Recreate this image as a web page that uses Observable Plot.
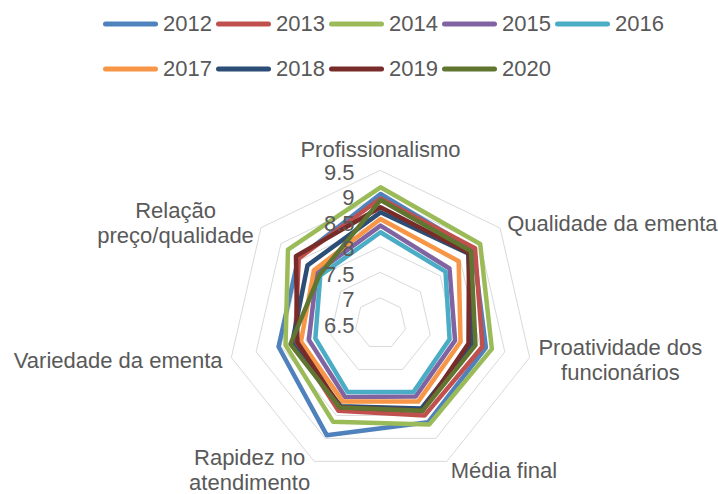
<!DOCTYPE html>
<html><head><meta charset="utf-8">
<script src="https://cdn.jsdelivr.net/npm/d3@7"></script>
<script src="https://cdn.jsdelivr.net/npm/@observablehq/plot@0.6"></script>
<style>
body{margin:0;background:#fff;font-family:'Liberation Sans',Arial,sans-serif;}
#legend{position:relative;height:95px;width:718px;}
.row{position:absolute;left:103px;display:flex;height:30px;align-items:center;}
.item{display:flex;align-items:center;width:113px;}
.item span{font-size:22px;color:#595959;margin-left:5px;line-height:30px;}
.item svg{display:block;}
</style></head><body>
<div id="legend"></div><div id="chart"></div>
<script>
// ---- data ----
const categories = ["Profissionalismo","Qualidade da ementa","Proatividade dos funcionários","Média final","Rapidez no atendimento","Variedade da ementa","Relação preço/qualidade"];
const categoryLabels = ["Profissionalismo","Qualidade da ementa","Proatividade dos\nfuncionários","Média final","Rapidez no\natendimento","Variedade da ementa","Relação\npreço/qualidade"];
const years = ["2012","2013","2014","2015","2016","2017","2018","2019","2020"];
const colors = ["#4F81BD","#C0504D","#9BBB59","#8064A2","#4BACC6","#F79646","#2C4D75","#772C2A","#5F7530"];
const s2012 = [9.04, 8.83, 8.62, 8.65, 8.93, 8.55, 8.56];
const s2013 = [8.95, 8.87, 8.55, 8.50, 8.40, 8.22, 8.55];
const s2014 = [9.17, 9.00, 8.74, 8.70, 8.64, 8.41, 8.82];
const s2015 = [8.42, 8.23, 8.00, 8.09, 8.10, 7.94, 8.10];
const s2016 = [8.29, 8.13, 7.89, 7.99, 7.99, 7.81, 8.01];
const s2017 = [8.55, 8.46, 8.11, 8.20, 8.20, 8.10, 8.17];
const s2018 = [8.68, 8.70, 8.34, 8.35, 8.30, 8.28, 8.33];
const s2019 = [8.78, 8.72, 8.27, 8.40, 8.32, 8.17, 8.62];
const s2020 = [8.92, 8.77, 8.41, 8.40, 8.33, 8.31, 8.03];
const tickValues = [6.5, 7, 7.5, 8, 8.5, 9, 9.5];
const tickLabels = ["6.5","7","7.5","8","8.5","9","9.5"];

// ---- layout ----
const series = [s2012,s2013,s2014,s2015,s2016,s2017,s2018,s2019,s2020];
const W = 718, H = 399, cx = 380, cy = 228, k = 51;
const vmin = tickValues[0], vmax = tickValues[tickValues.length-1];
const n = categories.length;
const ang = i => i * 2 * Math.PI / n;
const pt = (i, v) => ({x: (v - vmin) * Math.sin(ang(i)), y: (v - vmin) * Math.cos(ang(i))});

// legend
const legend = document.getElementById("legend");
[[0,5,9],[5,9,54]].forEach(([a,b,top]) => {
  const row = document.createElement("div"); row.className = "row"; row.style.top = top + "px";
  for (let j = a; j < b; j++) {
    const it = document.createElement("div"); it.className = "item";
    it.innerHTML = `<svg width="55" height="10"><line x1="2.5" y1="5" x2="52.5" y2="5" stroke="${colors[j]}" stroke-width="5" stroke-linecap="round"/></svg><span>${years[j]}</span>`;
    row.appendChild(it);
  }
  legend.appendChild(row);
});

const seriesData = [];
years.forEach((y, j) => series[j].forEach((v, i) => seriesData.push({year: y, cat: categories[i], ...pt(i, v)})));
const ringData = [];
tickValues.slice(1).forEach(t => categories.forEach((c, i) => ringData.push({ring: t, ...pt(i, t)})));
const ticks = tickValues.map((v, i) => ({v, label: tickLabels[i]}));

const fontSize = 22, lh = 1.15;
const ctx = document.createElement("canvas").getContext("2d");
ctx.font = `${fontSize}px 'Liberation Sans'`;
const labels = categoryLabels.map((t, i) => {
  const lines = t.split("\n");
  const w = Math.max(...lines.map(l => ctx.measureText(l).width));
  const h = lines.length * fontSize * lh;
  const dx = Math.sin(ang(i)), dy = -Math.cos(ang(i));
  const r = (vmax - vmin) * k;
  const px = r*dx + 9*dx + (Math.abs(dx) > 0.1 ? Math.sign(dx) * w / 2 : 0);
  const py = r*dy + 9*dy + (Math.abs(dy) > 0.95 ? Math.sign(dy) * h / 2 : 0);
  return {text: t, x: px / k, y: -py / k};
});

const chart = Plot.plot({
  width: W, height: H, margin: 0,
  style: {fontFamily: "'Liberation Sans', Arial, sans-serif", background: "#fff"},
  x: {domain: [-cx / k, (W - cx) / k], range: [0, W], axis: null},
  y: {domain: [-(H - cy) / k, cy / k], range: [H, 0], axis: null},
  color: {domain: years, range: colors},
  marks: [
    Plot.line(ringData, {x: "x", y: "y", z: "ring", curve: "linear-closed", stroke: "#D9D9D9", strokeWidth: 1}),
    Plot.line(seriesData, {x: "x", y: "y", z: "year", stroke: "year", curve: "linear-closed", strokeWidth: 4.5, strokeLinejoin: "round"}),
    Plot.text(ticks, {x: d => 0, y: d => d.v - vmin, text: "label", textAnchor: "end", dx: -26, dy: 2, fontSize: fontSize, fill: "#595959"}),
    Plot.text(labels, {x: "x", y: "y", text: "text", textAnchor: "middle", lineAnchor: "middle", lineHeight: lh, fontSize: fontSize, fill: "#595959"})
  ]
});
document.getElementById("chart").appendChild(chart);
</script>
</body></html>
